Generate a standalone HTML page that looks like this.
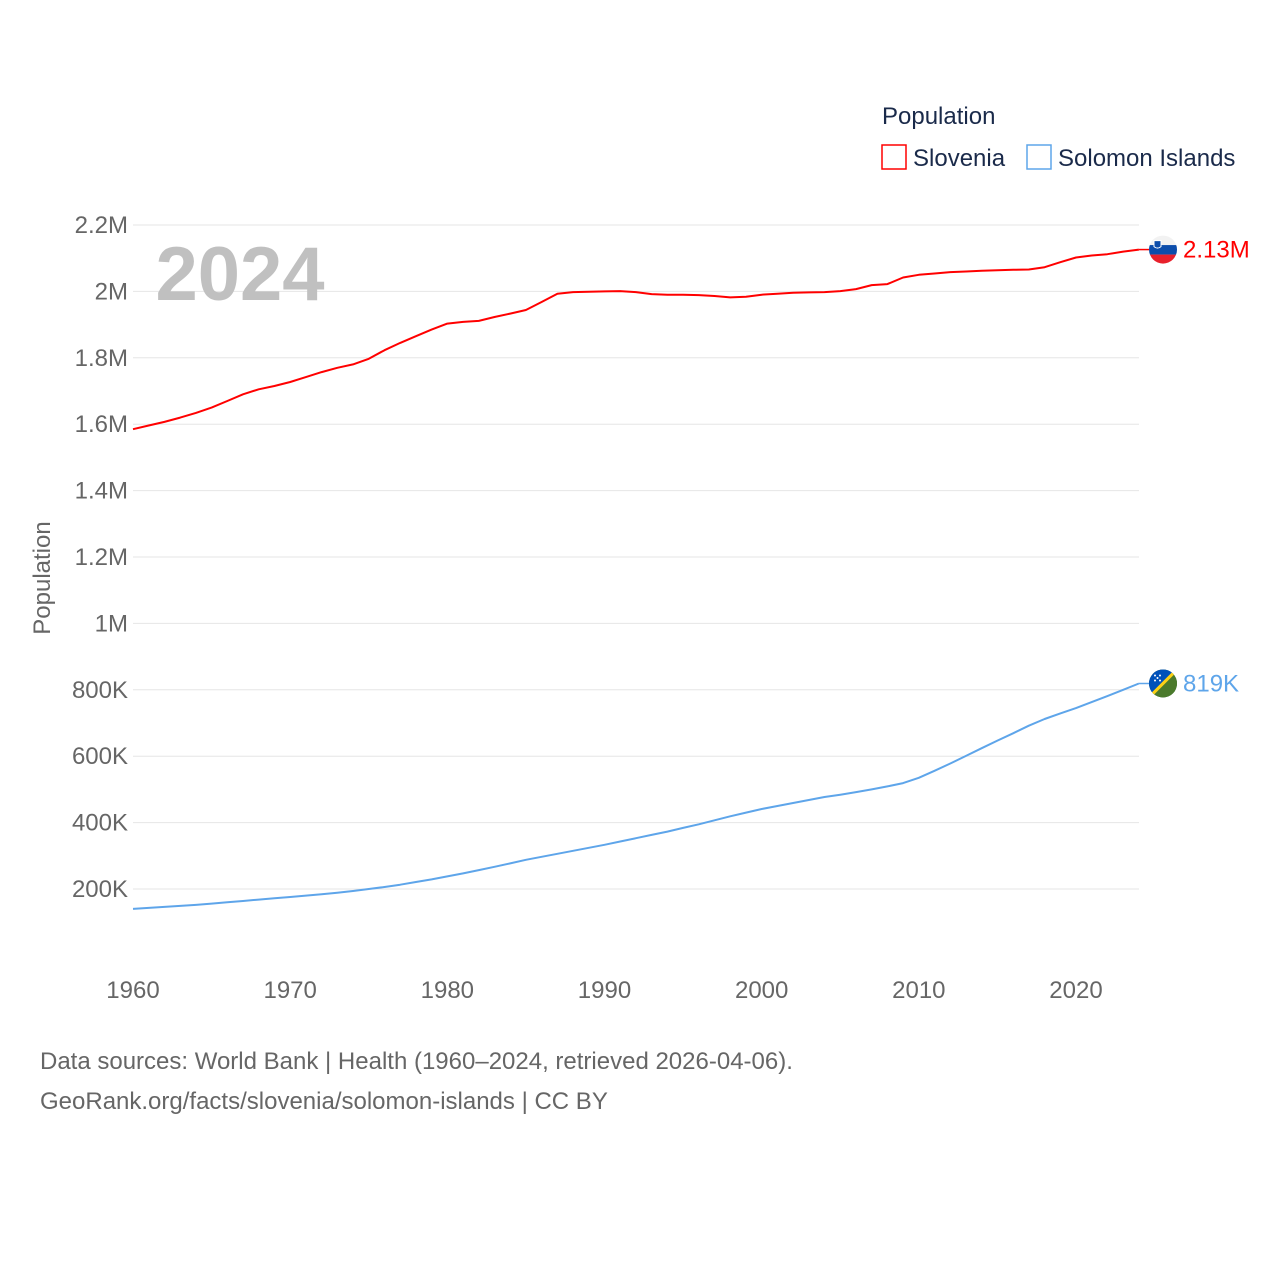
<!DOCTYPE html>
<html><head><meta charset="utf-8">
<style>
html,body{margin:0;padding:0;background:#fff;}
body{width:1280px;height:1280px;overflow:hidden;font-family:"Liberation Sans",sans-serif;}
svg text{font-family:"Liberation Sans",sans-serif;}
</style></head>
<body>
<svg id="chart" width="1280" height="1280" viewBox="0 0 1280 1280">
  <g id="grid"></g>
  <g id="yticks"></g>
  <g id="xticks"></g>
  <text x="240" y="300" font-size="76" font-weight="bold" fill="#c0c0c0" text-anchor="middle">2024</text>
  <text transform="translate(50,578) rotate(-90)" font-size="24" fill="#666" text-anchor="middle">Population</text>
  <g id="series"></g>
  <g id="ends"></g>
  <g>
    <text x="882" y="124" font-size="24" fill="#1a2a4a">Population</text>
    <g>
      <rect x="882" y="145" width="24" height="24" fill="#fff" stroke="#ff0000" stroke-width="1.5"/>
      <text x="913" y="166" font-size="24" fill="#1a2a4a">Slovenia</text>
    </g>
    <g>
      <rect x="1027" y="145" width="24" height="24" fill="#fff" stroke="#5ea5ea" stroke-width="1.5"/>
      <text x="1058" y="166" font-size="24" fill="#1a2a4a">Solomon Islands</text>
    </g>
  </g>
  <text x="40" y="1069" font-size="24" fill="#666">Data sources: World Bank | Health (1960–2024, retrieved 2026-04-06).</text>
  <text x="40" y="1109" font-size="24" fill="#666">GeoRank.org/facts/slovenia/solomon-islands | CC BY</text>
</svg>
<script>
const startYear = 1960;
const endYear = 2024;
const xTickYears = [1960,1970,1980,1990,2000,2010,2020];
const yTickValues = [200000,400000,600000,800000,1000000,1200000,1400000,1600000,1800000,2000000,2200000];
const yTickLabels = ["200K","400K","600K","800K","1M","1.2M","1.4M","1.6M","1.8M","2M","2.2M"];
const sloveniaM = [1.585,1.596,1.607,1.620,1.634,1.650,1.670,1.690,1.705,1.715,
 1.727,1.742,1.757,1.770,1.780,1.797,1.823,1.845,1.865,1.885,
 1.903,1.908,1.911,1.923,1.933,1.944,1.968,1.993,1.998,1.999,
 2.000,2.001,1.998,1.992,1.990,1.990,1.989,1.986,1.982,1.984,
 1.990,1.993,1.996,1.997,1.998,2.001,2.007,2.019,2.022,2.042,
 2.050,2.054,2.058,2.060,2.062,2.064,2.065,2.066,2.073,2.088,
 2.102,2.108,2.112,2.120,2.126];
const solomonK = [140,143,146,149,152,156,160,164,168,172,
 176,180,184,189,194,200,206,213,221,229,
 238,247,257,267,277,288,297,306,315,324,
 333,343,353,363,373,384,395,407,419,430,
 441,450,459,468,477,484,492,500,509,519,
 535,556,578,601,624,647,669,692,712,729,
 745,763,781,800,819];
const endLabels = ["2.13M","819K"];

const NS="http://www.w3.org/2000/svg";
const x = yr => 133 + (yr-1960)*(1076-133)/60;
const y = v => 955.4 - v*(889-225)/2000000;
function mk(tag, attrs, parent){const e=document.createElementNS(NS,tag);for(const k in attrs)e.setAttribute(k,attrs[k]);parent.appendChild(e);return e;}

const grid=document.getElementById('grid'), yt=document.getElementById('yticks'), xt=document.getElementById('xticks');
yTickValues.forEach((v,i)=>{
  const l=mk('line',{x1:133,x2:1139,y1:y(v),y2:y(v),stroke:'#e6e6e6','stroke-width':1},grid);
  
  
  const t=mk('text',{x:128,y:y(v)+8,'font-size':24,fill:'#666','text-anchor':'end'},yt);
  t.textContent=yTickLabels[i];
  
  
});
xTickYears.forEach(yr=>{
  const t=mk('text',{x:x(yr),y:998,'font-size':24,fill:'#666','text-anchor':'middle'},xt);
  t.textContent=yr;
  
  
});
const ser=document.getElementById('series');
function line(vals,scale,color,name){
  const d=vals.map((v,i)=>(i?'L':'M')+x(startYear+i).toFixed(1)+','+y(v*scale).toFixed(1)).join(' ');
  const p=mk('path',{d:d,fill:'none',stroke:color,'stroke-width':2,'stroke-linejoin':'round'},ser);
  
  
}
line(sloveniaM,1e6,'#ff0000','line-slovenia');
line(solomonK,1e3,'#5ea5ea','line-solomon-islands');

const ends=document.getElementById('ends');
const cx=1163;
// Slovenia flag
const sy=y(sloveniaM[sloveniaM.length-1]*1e6);
mk('line',{x1:x(endYear),x2:cx-14,y1:sy,y2:sy,stroke:'#ff0000','stroke-width':1.5},ends);
const sf=mk('g',{},ends);


mk('clipPath',{id:'c1'},sf).appendChild(Object.assign(document.createElementNS(NS,'circle'),{}));
document.querySelector('#c1 circle').setAttribute('cx',cx);
document.querySelector('#c1 circle').setAttribute('cy',sy);
document.querySelector('#c1 circle').setAttribute('r',14);
const g1=mk('g',{'clip-path':'url(#c1)'},sf);
mk('rect',{x:cx-14,y:sy-14,width:28,height:10,fill:'#f2f2f2'},g1);
mk('rect',{x:cx-14,y:sy-4.5,width:28,height:9.5,fill:'#0c4dab'},g1);
mk('rect',{x:cx-14,y:sy+5,width:28,height:10,fill:'#e8202c'},g1);
mk('path',{d:`M${cx-9},${sy-9} h7 v6 q-3.5,3 -7,0 z`,fill:'#0c4dab',stroke:'#fff','stroke-width':1},g1);
const t1=mk('text',{x:1183,y:sy+8,'font-size':24,fill:'#ff0000'},ends);
t1.textContent=endLabels[0];


// Solomon flag
const oy=y(solomonK[solomonK.length-1]*1e3);
mk('line',{x1:x(endYear),x2:cx-14,y1:oy,y2:oy,stroke:'#5ea5ea','stroke-width':1.5},ends);
const of=mk('g',{},ends);


const c2=mk('clipPath',{id:'c2'},of);
mk('circle',{cx:cx,cy:oy,r:14},c2);
const g2=mk('g',{'clip-path':'url(#c2)'},of);
mk('rect',{x:cx-14,y:oy-14,width:28,height:28,fill:'#215b33'},g2);
mk('path',{d:`M${cx-14},${oy-14} h28 L${cx-14},${oy+14} z`,fill:'#0051ba'},g2);
mk('path',{d:`M${cx-14},${oy+14} L${cx+14},${oy-14}`,stroke:'#fcd116','stroke-width':3},g2);
mk('rect',{x:cx-14,y:oy-1,width:0,height:0},g2);
const gg=mk('path',{d:`M${cx+14},${oy-14} L${cx+14},${oy+14} L${cx-14},${oy+14} z`,fill:'#4b7a2c'},g2);
mk('path',{d:`M${cx-16},${oy+16} L${cx+16},${oy-16}`,stroke:'#fcd116','stroke-width':3},g2);
[[-8,-8],[-3,-8],[-8,-3],[-3,-3],[-5.5,-5.5]].forEach(p=>mk('circle',{cx:cx+p[0],cy:oy+p[1],r:1,fill:'#fff'},g2));
const t2=mk('text',{x:1183,y:oy+8,'font-size':24,fill:'#5ea5ea'},ends);
t2.textContent=endLabels[1];


</script>
</body></html>
